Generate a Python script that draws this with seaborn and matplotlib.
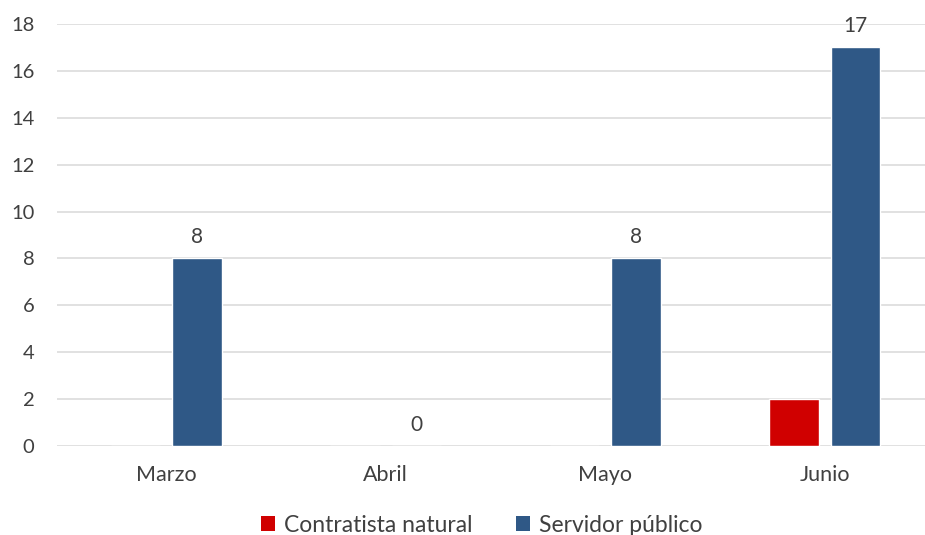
import matplotlib
matplotlib.use("Agg")
import matplotlib.pyplot as plt
import seaborn as sns
import pandas as pd
from matplotlib.patches import Patch

meses = ["Marzo", "Abril", "Mayo", "Junio"]
contratista_natural = [0, 0, 0, 2]
servidor_publico = [8, 0, 8, 17]
series = ["Contratista natural", "Servidor público"]
colores = ["#D00000", "#2F5886"]
y_ticks = [0, 2, 4, 6, 8, 10, 12, 14, 16, 18]

df = pd.DataFrame({
    "Mes": meses * 2,
    "Casos": contratista_natural + servidor_publico,
    "Tipo": [series[0]] * len(meses) + [series[1]] * len(meses),
})

sns.set_theme(style="white")
plt.rcParams["font.family"] = ["Lato", "DejaVu Sans"]
texto = "#404040"

fig = plt.figure(figsize=(9.25, 5.35), dpi=100)
W, H = 925, 535
ax = fig.add_axes([56.5 / W, 1 - 446 / H, 878 / W, 422 / H])

sns.barplot(data=df, x="Mes", y="Casos", hue="Tipo", order=meses,
            hue_order=series, palette=colores, width=0.56, gap=0.19,
            saturation=1, legend=False, ax=ax)

ax.set_xlim(-0.5, 3.5)
ax.set_ylim(0, 18)
ax.set_yticks(y_ticks)
ax.yaxis.grid(True, color="#D9D9D9", linewidth=1.1)
ax.set_axisbelow(True)
for s in ax.spines.values():
    s.set_visible(False)
ax.tick_params(axis="y", length=0, labelsize=14.5, colors=texto, pad=16)
ax.tick_params(axis="x", length=0, labelsize=15.5, colors=texto, pad=14)
ax.set_xlabel("")
ax.set_ylabel("")

# value labels on the public-servant bars
ax.bar_label(ax.containers[1], fmt="%d", padding=8, fontsize=15, color=texto)

handles = [Patch(facecolor=c, edgecolor="none") for c in colores]
fig.legend(handles, series, loc="center", bbox_to_anchor=(481.5 / W, 1 - 525 / H),
           ncol=2, frameon=False, fontsize=16.5, labelcolor=texto,
           handlelength=0.6, handleheight=0.6, handletextpad=0.4, columnspacing=1.9,
           borderpad=0)

fig.savefig("out.png", dpi=100)
